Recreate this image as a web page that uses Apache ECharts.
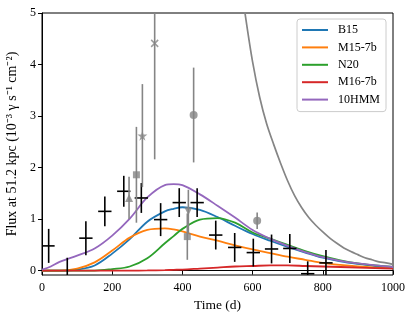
<!DOCTYPE html>
<html>
<head>
<meta charset="utf-8">
<script src="https://cdn.jsdelivr.net/npm/echarts@6/dist/echarts.min.js"></script>
<style>
  html, body { margin: 0; padding: 0; background: #fff; }
  #chart { width: 415px; height: 322px; }
</style>
</head>
<body>
<div id="chart"></div>
<script>
  // model curves
  const modelDays = [0, 25, 50, 100, 150, 200, 250, 300, 350, 375, 400, 450, 500, 550, 600, 650, 700, 750, 800, 850, 900, 950, 1000]
  const b15 = [0, 0, 0, 0.02, 0.10, 0.33, 0.61, 0.95, 1.15, 1.20, 1.23, 1.18, 1.04, 0.87, 0.71, 0.58, 0.46, 0.35, 0.25, 0.18, 0.13, 0.09, 0.06]
  const m15 = [0, 0, 0, 0.04, 0.16, 0.39, 0.64, 0.79, 0.82, 0.80, 0.76, 0.66, 0.58, 0.49, 0.41, 0.34, 0.27, 0.21, 0.15, 0.11, 0.08, 0.06, 0.05]
  const n20 = [0, 0, 0, 0, 0, 0.03, 0.08, 0.24, 0.53, 0.67, 0.81, 0.99, 1.02, 0.93, 0.74, 0.62, 0.50, 0.38, 0.28, 0.20, 0.14, 0.10, 0.07]
  const m16 = [0, 0, 0, 0, 0, 0, 0, 0.003, 0.01, 0.015, 0.02, 0.04, 0.06, 0.08, 0.09, 0.10, 0.10, 0.09, 0.08, 0.07, 0.06, 0.05, 0.04]
  const hmm10 = [0.02, 0.08, 0.17, 0.29, 0.43, 0.68, 1.01, 1.42, 1.66, 1.68, 1.66, 1.48, 1.26, 1.03, 0.79, 0.62, 0.48, 0.36, 0.26, 0.19, 0.14, 0.10, 0.07]

  // gray decay curve
  const grayDays = [560, 580, 600, 620, 640, 660, 680, 700, 720, 740, 760, 780, 800, 820, 840, 860, 880, 900, 920, 940, 960, 980, 1000]
  const grayFlux = [5.9, 4.92, 4.05, 3.37, 2.85, 2.45, 2.08, 1.74, 1.45, 1.22, 1.03, 0.88, 0.75, 0.63, 0.53, 0.44, 0.37, 0.31, 0.25, 0.21, 0.17, 0.15, 0.12]

  // black data points (crosses)
  const crossDays = [19, 72, 125, 179, 233, 283, 338, 391, 442, 495, 549, 602, 654, 706, 757, 809]
  const crossFlux = [0.48, -0.1, 0.63, 1.15, 1.54, 1.41, 0.99, 1.32, 1.32, 0.69, 0.45, 0.35, 0.42, 0.43, -0.06, 0.15]
  const crossFluxErr = [0.33, 0.35, 0.33, 0.29, 0.30, 0.29, 0.32, 0.28, 0.28, 0.28, 0.28, 0.27, 0.28, 0.28, 0.24, 0.25]
  const crossDayErr = [17, 19, 19, 19, 19, 19, 19, 19, 19, 19, 19, 19, 19, 19, 19, 19]

  // gray data points, [day, flux, err]
  const circlePts = [[432, 3.02, 0.92], [613, 0.97, 0.16]]
  const squarePts = [[269, 1.86, 0.93], [414, 0.66, 0.45]]
  const triUpPts = [[248, 1.41, 0.41]]
  const triDownPts = [[417, 1.15, 0.42]]
  const starPts = [[286, 2.62, 1.0]]
  const crossMarkPts = [[321, 4.41, 2.25]]

  const yTicks = [0, 1, 2, 3, 4, 5]

  const seriesNames = ['B15', 'M15-7b', 'N20', 'M16-7b', '10HMM']
  const seriesColors = ['#1f77b4', '#ff7f0e', '#2ca02c', '#d62728', '#9467bd']
  const seriesValues = [b15, m15, n20, m16, hmm10]

  const font = 'Liberation Serif'
  const gray = '#858585'

  const chart = echarts.init(document.getElementById('chart'))

  function errBars(color, withX) {
    return function (params, api) {
      const x = api.value(0)
      const y = api.value(1)
      const ye = api.value(3)
      const top = api.coord([x, y + ye])
      const bot = api.coord([x, y - ye])
      const kids = [{
        type: 'line',
        shape: { x1: top[0], y1: top[1], x2: bot[0], y2: bot[1] },
        style: { stroke: color, lineWidth: 1.6 }
      }]
      if (withX) {
        const xe = api.value(2)
        const l = api.coord([x - xe, y])
        const r = api.coord([x + xe, y])
        kids.push({
          type: 'line',
          shape: { x1: l[0], y1: l[1], x2: r[0], y2: r[1] },
          style: { stroke: color, lineWidth: 1.6 }
        })
      }
      return { type: 'group', children: kids }
    }
  }

  const grayAll = [].concat(circlePts, squarePts, triUpPts, triDownPts, starPts, crossMarkPts)

  const series = seriesNames.map((name, i) => ({
    name: name,
    type: 'line',
    data: modelDays.map((d, j) => [d, seriesValues[i][j]]),
    smooth: 0.35,
    showSymbol: false,
    lineStyle: { color: seriesColors[i], width: 1.8 },
    itemStyle: { color: seriesColors[i] },
    z: 2
  }))

  series.push({
    name: 'decay',
    type: 'line',
    data: grayDays.map((d, i) => [d, grayFlux[i]]),
    smooth: 0.3,
    showSymbol: false,
    lineStyle: { color: gray, width: 1.7 },
    z: 2
  })

  series.push({
    type: 'custom',
    renderItem: errBars('#000', true),
    data: crossDays.map((d, i) => [d, crossFlux[i], crossDayErr[i], crossFluxErr[i]]),
    encode: { x: 0, y: 1 },
    clip: true,
    z: 3
  })

  series.push({
    type: 'custom',
    renderItem: errBars(gray, false),
    data: grayAll.map(p => [p[0], p[1], 0, p[2]]),
    encode: { x: 0, y: 1 },
    clip: true,
    z: 3
  })

  const markerDefs = [
    [circlePts, 'circle', 8, 0],
    [squarePts, 'rect', 7, 0],
    [triUpPts, 'triangle', 8, 0],
    [triDownPts, 'triangle', 8, 180],
    [starPts, 'path://M50,0L61,35L98,35L68,57L79,91L50,70L21,91L32,57L2,35L39,35Z', 10, 0]
  ]
  markerDefs.forEach(m => {
    series.push({
      type: 'scatter',
      data: m[0].map(p => [p[0], p[1]]),
      symbol: m[1],
      symbolSize: m[2],
      symbolRotate: m[3],
      itemStyle: { color: gray },
      z: 4
    })
  })
  series.push({
    type: 'scatter',
    data: crossMarkPts.map(p => [p[0], p[1]]),
    symbol: 'path://M0,0L10,10M10,0L0,10',
    symbolSize: 7,
    itemStyle: { color: 'none', borderColor: gray, borderWidth: 1.5 },
    z: 4
  })

  chart.setOption({
    animation: false,
    textStyle: { fontFamily: font },
    grid: {
      left: 42,
      right: 22,
      top: 13,
      bottom: 47,
      outerBoundsMode: 'none',
      show: true,
      borderColor: '#000',
      borderWidth: 1
    },
    legend: {
      data: seriesNames,
      orient: 'vertical',
      left: 297,
      top: 19,
      icon: 'rect',
      itemWidth: 26,
      itemHeight: 2,
      itemGap: 3.4,
      padding: [4, 6, 5, 5],
      backgroundColor: 'rgba(255,255,255,0.85)',
      borderColor: '#cccccc',
      borderWidth: 1,
      borderRadius: 3,
      textStyle: { fontFamily: font, fontSize: 12, color: '#000', lineHeight: 14, padding: [0, 0, 0, 5] }
    },
    xAxis: {
      type: 'value',
      min: 0,
      max: 1000,
      interval: 200,
      name: 'Time (d)',
      nameLocation: 'middle',
      nameGap: 21,
      nameTextStyle: { fontFamily: font, fontSize: 13.5, color: '#000' },
      axisLine: { lineStyle: { color: '#000', width: 1 } },
      axisTick: { inside: false, length: 4, lineStyle: { color: '#000' } },
      axisLabel: { color: '#000', fontFamily: font, fontSize: 12, margin: 7, formatter: v => String(v) },
      splitLine: { show: false }
    },
    yAxis: {
      type: 'value',
      min: -0.085,
      max: 5,
      name: 'Flux at 51.2 kpc (10⁻³ γ s⁻¹ cm⁻²)',
      nameLocation: 'middle',
      nameGap: 16,
      nameTextStyle: { fontFamily: font, fontSize: 14, color: '#000' },
      axisLine: { lineStyle: { color: '#000', width: 1 } },
      axisTick: { inside: false, length: 4, lineStyle: { color: '#000' }, customValues: yTicks },
      axisLabel: { color: '#000', fontFamily: font, fontSize: 12, margin: 6, customValues: yTicks },
      splitLine: { show: false }
    },
    series: series
  })
</script>
</body>
</html>
